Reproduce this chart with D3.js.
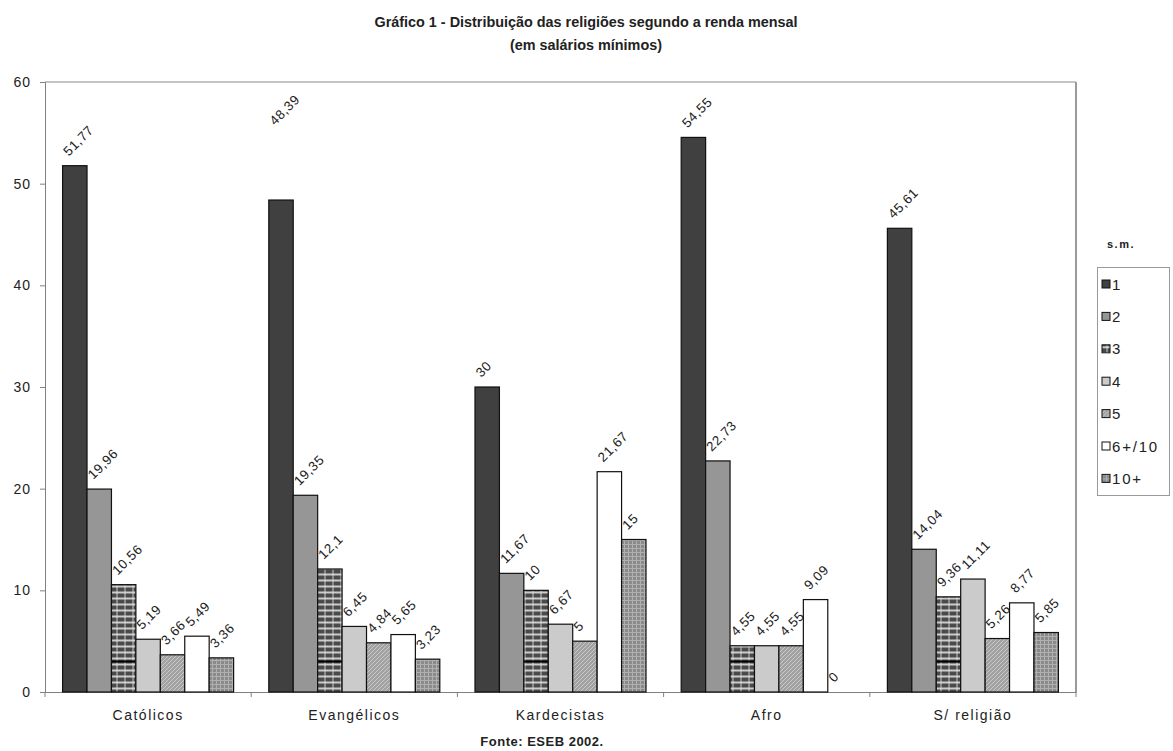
<!DOCTYPE html>
<html>
<head>
<meta charset="utf-8">
<script src="https://cdn.jsdelivr.net/npm/d3@7"></script>
<style>
  body { margin: 0; background: #fff; }
  text { font-family: "Liberation Sans", Arial, sans-serif; fill: #222; }
</style>
</head>
<body>
<svg id="chart" width="1173" height="751"></svg>
<script>
// Religion by monthly income (minimum wages), ESEB 2002
const categories = ["Católicos", "Evangélicos", "Kardecistas", "Afro", "S/ religião"];
const seriesNames = ["1", "2", "3", "4", "5", "6+/10", "10+"];
const s1 = [51.77, 48.39, 30, 54.55, 45.61];
const s2 = [19.96, 19.35, 11.67, 22.73, 14.04];
const s3 = [10.56, 12.1, 10, 4.55, 9.36];
const s4 = [5.19, 6.45, 6.67, 4.55, 11.11];
const s5 = [3.66, 4.84, 5, 4.55, 5.26];
const s6 = [5.49, 5.65, 21.67, 9.09, 8.77];
const s7 = [3.36, 3.23, 15, 0, 5.85];
const yTicks = [0, 10, 20, 30, 40, 50, 60];

const seriesValues = [s1, s2, s3, s4, s5, s6, s7];

const svg = d3.select("#chart");
const plot = { left: 45, right: 1076, top: 82, bottom: 692 };

const y = d3.scaleLinear().domain([0, 60]).range([plot.bottom, plot.top]);
const x0 = d3.scaleBand().domain(categories).range([plot.left, plot.right]).padding(0);
const x1 = d3.scaleBand().domain(seriesNames).range([0, x0.bandwidth()])
  .paddingInner(0).paddingOuter(0.72);

// ---- fill patterns ----
const defs = svg.append("defs");

// series "3": dark plaid with light horizontal bands and one heavy rule
const p3 = defs.append("pattern").attr("id", "pat3")
  .attr("patternUnits", "userSpaceOnUse")
  .attr("x", 0).attr("y", y(3) - 1)
  .attr("width", 8).attr("height", 108);
p3.append("rect").attr("width", 8).attr("height", 108).attr("fill", "#4a4a4a");
p3.append("rect").attr("x", 4).attr("width", 2).attr("height", 108).attr("fill", "#8a8a8a");
for (let i = 0; i < 18; i++) {
  p3.append("rect").attr("x", 0).attr("y", i * 6 + 3).attr("width", 8).attr("height", 2)
    .attr("fill", "#e2e2e2").attr("opacity", 0.85);
}
p3.append("rect").attr("x", 0).attr("y", 0).attr("width", 8).attr("height", 2).attr("fill", "#000");

// series "5": grey with diagonal hatching
const p5 = defs.append("pattern").attr("id", "pat5")
  .attr("patternUnits", "userSpaceOnUse").attr("width", 4).attr("height", 4);
p5.append("rect").attr("width", 4).attr("height", 4).attr("fill", "#a2a2a2");
p5.append("path").attr("d", "M0,4 L4,0 M-1,1 L1,-1 M3,5 L5,3")
  .attr("stroke", "#c8c8c8").attr("stroke-width", 1);

// series "10+": darker grey with fine dotted grid
const p7 = defs.append("pattern").attr("id", "pat7")
  .attr("patternUnits", "userSpaceOnUse").attr("width", 4).attr("height", 4);
p7.append("rect").attr("width", 4).attr("height", 4).attr("fill", "#8a8a8a");
p7.append("rect").attr("width", 4).attr("height", 1).attr("fill", "#b0b0b0");
p7.append("rect").attr("width", 1).attr("height", 4).attr("fill", "#b0b0b0");

const fills = ["#404040", "#969696", "url(#pat3)", "#cbcbcb", "url(#pat5)", "#ffffff", "url(#pat7)"];

// ---- title ----
svg.append("text").attr("x", 586).attr("y", 27).attr("text-anchor", "middle")
  .attr("font-size", 14.4).attr("font-weight", "bold")
  .text("Gráfico 1 - Distribuição das religiões segundo a renda mensal");
svg.append("text").attr("x", 586).attr("y", 50).attr("text-anchor", "middle")
  .attr("font-size", 14.4).attr("font-weight", "bold")
  .text("(em salários mínimos)");

// ---- plot frame (top and right edges) ----
svg.append("line").attr("x1", plot.left).attr("x2", plot.right)
  .attr("y1", plot.top).attr("y2", plot.top)
  .attr("stroke", "#c4c4c4").attr("stroke-width", 2);
svg.append("line").attr("x1", plot.right).attr("x2", plot.right)
  .attr("y1", plot.top).attr("y2", plot.bottom)
  .attr("stroke", "#9a9a9a").attr("stroke-width", 2);

// ---- y axis ----
const yAxis = svg.append("g").attr("transform", `translate(${plot.left},0)`)
  .call(d3.axisLeft(y).tickValues(yTicks).tickSize(5).tickPadding(9).tickFormat(d3.format("d")));
yAxis.select(".domain").attr("stroke", "#808080");
yAxis.selectAll(".tick line").attr("stroke", "#808080");
yAxis.selectAll(".tick text").attr("font-size", 14).attr("letter-spacing", 1)
  .attr("fill", "#222").style("font-family", '"Liberation Sans", Arial, sans-serif');

// ---- x axis ----
const xAxis = svg.append("g").attr("transform", `translate(0,${plot.bottom})`)
  .call(d3.axisBottom(x0).tickSize(0).tickPadding(18));
xAxis.select(".domain").attr("stroke", "#808080");
xAxis.selectAll(".tick text").attr("font-size", 14).attr("letter-spacing", 1.5)
  .attr("fill", "#222").style("font-family", '"Liberation Sans", Arial, sans-serif');
// boundary ticks between categories
const bounds = categories.map(c => x0(c)).concat([plot.right]);
svg.append("g").selectAll("line").data(bounds).join("line")
  .attr("x1", d => d).attr("x2", d => d)
  .attr("y1", plot.bottom).attr("y2", plot.bottom + 5)
  .attr("stroke", "#808080");

// ---- bars ----
const rows = [];
categories.forEach((c, ci) => {
  seriesNames.forEach((s, si) => {
    rows.push({ cat: c, series: s, si, value: seriesValues[si][ci] });
  });
});

svg.append("g").selectAll("rect").data(rows).join("rect")
  .attr("x", d => x0(d.cat) + x1(d.series))
  .attr("y", d => y(d.value))
  .attr("width", x1.bandwidth())
  .attr("height", d => y(0) - y(d.value))
  .attr("fill", d => fills[d.si])
  .attr("stroke", "#111").attr("stroke-width", 1.2);

// ---- value labels ----
// one label was dragged well above its bar in the original layout
const labelLift = { "Evangélicos|1": 65 };
const fmt = v => String(v).replace(".", ",");
svg.append("g").selectAll("text").data(rows).join("text")
  .attr("transform", d => {
    const cx = x0(d.cat) + x1(d.series) + x1.bandwidth() / 2;
    const lift = labelLift[d.cat + "|" + d.series] || 0;
    return `translate(${cx - 6},${y(d.value) - 9 - lift}) rotate(-45)`;
  })
  .attr("font-size", 13.3).attr("letter-spacing", 0.6)
  .text(d => fmt(d.value));

// ---- legend ----
svg.append("text").attr("x", 1107).attr("y", 248)
  .attr("font-size", 11).attr("font-weight", "bold").attr("letter-spacing", 1.5)
  .text("s.m.");
svg.append("rect").attr("x", 1097.5).attr("y", 267.5).attr("width", 72).attr("height", 228)
  .attr("fill", "#fff").attr("stroke", "#9a9a9a");
const leg = svg.append("g").selectAll("g").data(seriesNames).join("g")
  .attr("transform", (d, i) => `translate(1102,${284 + i * 32.4})`);
leg.append("rect").attr("x", 0).attr("y", -4).attr("width", 8).attr("height", 8)
  .attr("fill", (d, i) => fills[i]).attr("stroke", "#111");
leg.append("text").attr("x", 10).attr("y", 5.5)
  .attr("font-size", 15).attr("letter-spacing", 1.8)
  .text(d => d);

// ---- source ----
svg.append("text").attr("x", 542).attr("y", 746).attr("text-anchor", "middle")
  .attr("font-size", 13).attr("font-weight", "bold").attr("letter-spacing", 0.5)
  .text("Fonte: ESEB 2002.");
</script>
</body>
</html>
